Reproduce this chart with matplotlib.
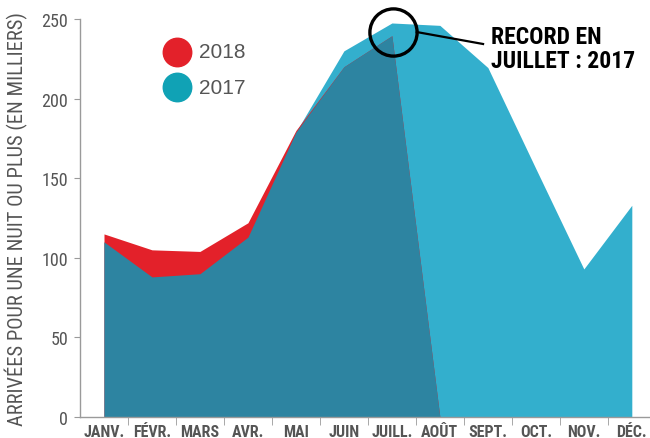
import numpy as np
import matplotlib
matplotlib.use("Agg")
import matplotlib.pyplot as plt
from matplotlib.lines import Line2D

# data (arrivals, thousands)
months = ['JANV.', 'FÉVR.', 'MARS', 'AVR.', 'MAI', 'JUIN', 'JUILL.', 'AOÛT',
          'SEPT.', 'OCT.', 'NOV.', 'DÉC.']
arr_2017 = [110, 88, 90, 113, 179, 230, 247.5, 246, 219.5, 156, 93, 133]
arr_2018 = [115, 105, 104, 122, 180, 220, 239.5, 0]
yticks = [0, 50, 100, 150, 200, 250]

RED = '#E3212A'
CYAN = '#33AFCD'
DARK = '#2D84A1'
LEG17 = '#10A2B5'
GRAY = '#555555'
NARROW = ['Roboto Condensed', 'Liberation Sans Narrow', 'DejaVu Sans']
REG = ['Liberation Sans', 'DejaVu Sans']

fig = plt.figure(figsize=(6.5, 4.39), dpi=100)
ax = fig.add_axes([80 / 650, 1 - 418 / 439, 571 / 650, 398 / 439])

x17 = np.arange(len(arr_2017))
x18 = np.arange(len(arr_2018))
y17 = np.array(arr_2017, dtype=float)
y18 = np.array(arr_2018, dtype=float)

# 2017 in cyan, 2018 in red, overlap of both in dark teal
ax.fill_between(x17, 0, y17, color=CYAN, lw=0)
ax.fill_between(x18, 0, y18, color=RED, lw=0)
ax.fill_between(x18, 0, np.minimum(y18, y17[:len(y18)]), color=DARK, lw=0)

ax.set_xlim(-0.5, 11.4)
ax.set_ylim(0, 250)

for s in ['top', 'right']:
    ax.spines[s].set_visible(False)
for s in ['left', 'bottom']:
    ax.spines[s].set_color('#9a9a9a')
    ax.spines[s].set_linewidth(1.0)

ax.set_yticks(yticks)
ax.set_yticklabels([str(v) for v in yticks], family=NARROW, fontsize=13, color=GRAY)
ax.tick_params(axis='y', length=4.5, color='#9a9a9a', pad=4)

ax.set_xticks(x17)
ax.set_xticklabels(months, family=NARROW, fontsize=11.5, fontweight='bold', color=GRAY)
ax.set_xticks(np.arange(0.5, 11, 1), minor=True)
ax.tick_params(axis='x', which='major', length=0, pad=5)
ax.tick_params(axis='x', which='minor', length=6, color='#9a9a9a')

ax.set_ylabel('ARRIVÉES POUR UNE NUIT OU PLUS (EN MILLIERS)', family=NARROW,
              fontsize=14.8, color=GRAY)
ax.yaxis.set_label_coords(-0.091, 0.5)

# legend
for yy, col, lab in [(52.7, RED, '2018'), (88.3, LEG17, '2017')]:
    fig.add_artist(Line2D([177.3 / 650], [1 - yy / 439], marker='o', ms=20.5,
                          color=col, ls='', transform=fig.transFigure))
    fig.text(199 / 650, 1 - yy / 439, lab, family=REG, fontsize=15, color=GRAY,
             va='center', ha='left')

# record annotation
ax.plot([6.03], [241.6], marker='o', ms=34, mfc='none', mec='black', mew=2.4,
        clip_on=False)
ax.plot([6.52, 7.9], [241.8, 234.3], color='black', lw=1.6, clip_on=False)
ax.text(8.06, 231.5, 'RECORD EN\nJUILLET : 2017', family=NARROW, fontsize=17,
        fontweight='bold', color='black', va='center', ha='left', linespacing=1.05)

fig.savefig('out.png', dpi=100)
